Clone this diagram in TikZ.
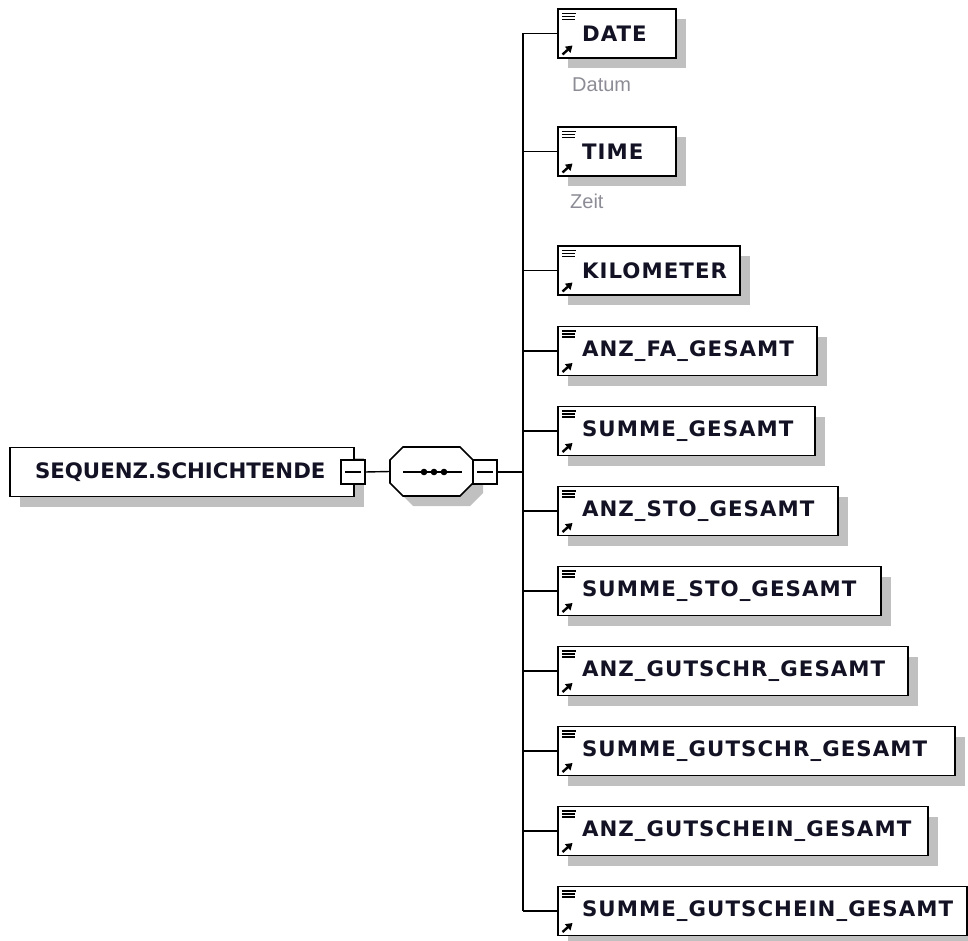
\documentclass[tikz,border=0pt]{standalone}
\usepackage{fontspec}
\setmainfont{Liberation Sans}
\newfontfamily\lblfont{DejaVu Sans}[LetterSpace=5]
\usetikzlibrary{shadows,arrows.meta,calc}
\definecolor{shadowgray}{RGB}{192,192,192}
\definecolor{annotgray}{RGB}{140,140,150}
\definecolor{labelink}{RGB}{18,18,36}

% one child element: name, y of its centre, box width, label
\newcommand\childelem[4]{%
  \node[elembox] (#1) at (558,#2) {\makebox[#3pt][l]{\hspace*{24pt}#4}};
  \draw[iconline] ($(#1.north west)+(4,4.5)$) -- ++(13.5,0);
  \draw[iconline] ($(#1.north west)+(4,7.5)$) -- ++(12.5,0);
  \draw[iconline] ($(#1.north west)+(4,10.5)$) -- ++(13,0);
  \draw[linkarrow] ($(#1.south west)+(4.5,-3.5)$) -- ++(10,-9);
  \coordinate (bus#1) at (523,#2);
  \draw[conn] (bus#1) -- (#1.west);
}

\begin{document}
\begin{tikzpicture}[x=1pt,y=-1pt,
  conn/.style={line width=1.4pt, draw=black},
  elembox/.style={draw=black, line width=1.6pt, fill=white, rectangle,
    inner sep=0pt, outer sep=0pt, minimum height=49pt, anchor=west,
    font={\lblfont\bfseries\fontsize{21.3pt}{24pt}\selectfont}, text=labelink,
    drop shadow={shadow xshift=10pt, shadow yshift=-10pt, fill=shadowgray, opacity=1}},
  minusbox/.style={draw=black, line width=1.4pt, fill=white, rectangle,
    inner sep=0pt, outer sep=0pt, minimum size=24pt,
    path picture={\draw[line width=1.4pt]
      ($(path picture bounding box.west)+(4,0)$) -- ($(path picture bounding box.east)+(-4,0)$);}},
  iconline/.style={line width=1.1pt, draw=black},
  linkarrow/.style={line width=2.4pt, draw=black, -{Triangle[length=6.5pt,width=8pt]}},
  annot/.style={font={\fontsize{20pt}{24pt}\selectfont}, text=annotgray, anchor=base west, inner sep=0pt},
]
\useasboundingbox (0,0) rectangle (968,941);

% root element
\node[elembox] (root) at (10,472) {\makebox[344pt][l]{\hspace*{25pt}\addfontfeature{LetterSpace=0}SEQUENZ.SCHICHTENDE}};
\node[minusbox] (rootminus) at (353,472) {};

% sequence compositor
\node[rectangle, minimum width=83pt, minimum height=49pt, inner sep=0pt, outer sep=0pt] (seq) at (431.5,471.5) {};
\fill[shadowgray] (413,457) -- (470,457) -- (483,470) -- (483,493) -- (470,506) -- (413,506) -- (400,493) -- (400,470) -- cycle;
\draw[line width=1.6pt, fill=white] (403,447) -- (460,447) -- (473,460) -- (473,483) -- (460,496) -- (403,496) -- (390,483) -- (390,460) -- cycle;
\draw[line width=1.5pt] (403,472) -- (462,472);
\foreach \dx in {424,434,444} \fill (\dx,472) circle (3.3pt);
\node[minusbox] (seqminus) at (485,472) {};

\draw[conn] (rootminus.east) -- (seq.west);
\coordinate (busmid) at (523,472);
\draw[conn] (seqminus.east) -- (busmid);

% child elements
\childelem{c1}{33.5}{118}{DATE}
\childelem{c2}{151.5}{118}{TIME}
\childelem{c3}{270.5}{182}{KILOMETER}
\childelem{c4}{351}{259}{ANZ\_FA\_GESAMT}
\childelem{c5}{431}{257}{SUMME\_GESAMT}
\childelem{c6}{511}{280}{ANZ\_STO\_GESAMT}
\childelem{c7}{591}{323}{SUMME\_STO\_GESAMT}
\childelem{c8}{671}{350}{ANZ\_GUTSCHR\_GESAMT}
\childelem{c9}{751}{397}{SUMME\_GUTSCHR\_GESAMT}
\childelem{c10}{831}{370}{ANZ\_GUTSCHEIN\_GESAMT}
\childelem{c11}{911}{409}{SUMME\_GUTSCHEIN\_GESAMT}

\draw[conn] (busc1) -- (busc11);

% annotations
\node[annot] (a1) at ($(c1.south west)+(14,34)$) {Datum};
\node[annot] (a2) at ($(c2.south west)+(12,33)$) {Zeit};
\end{tikzpicture}
\end{document}
